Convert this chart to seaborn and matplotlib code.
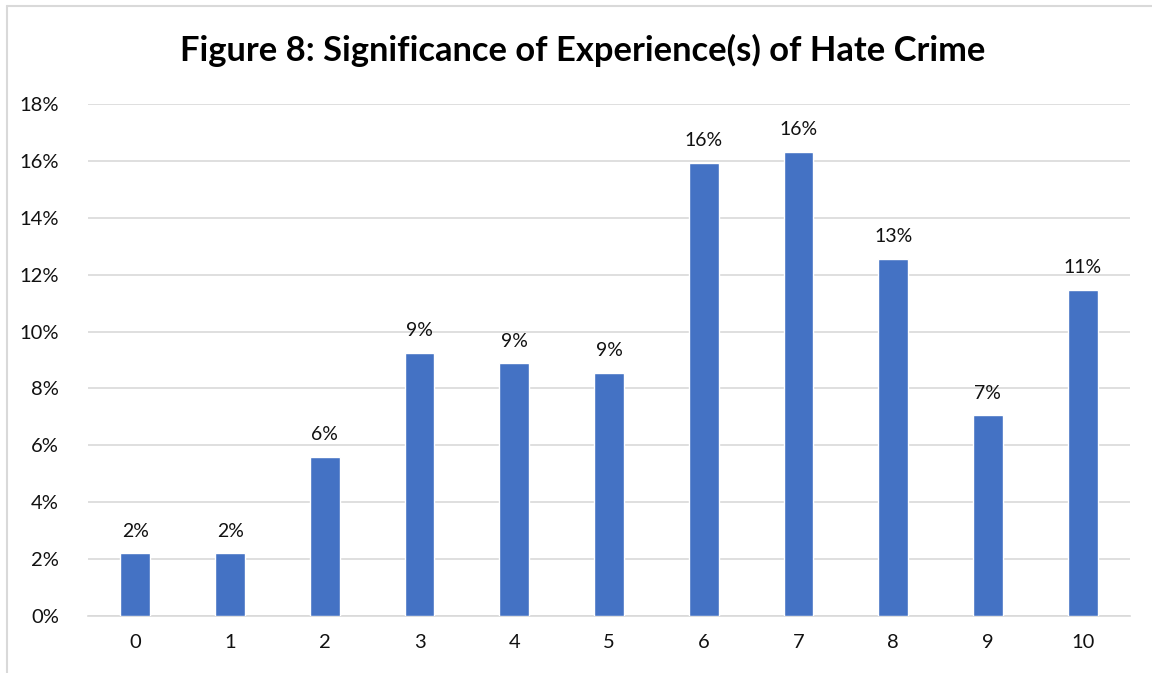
import matplotlib
matplotlib.use("Agg")
import matplotlib.pyplot as plt
import seaborn as sns
import pandas as pd
from matplotlib.lines import Line2D
from matplotlib.ticker import PercentFormatter

# Significance rating (0-10) and share of respondents
ratings = ["0", "1", "2", "3", "4", "5", "6", "7", "8", "9", "10"]
shares = [0.022, 0.022, 0.056, 0.0926, 0.0888, 0.0853, 0.1593, 0.1630, 0.1256, 0.0705, 0.1147]
y_ticks = [0.0, 0.02, 0.04, 0.06, 0.08, 0.10, 0.12, 0.14, 0.16, 0.18]
title = "Figure 8: Significance of Experience(s) of Hate Crime"

df = pd.DataFrame({"rating": ratings, "share": shares})

sns.set_theme(style="white")
plt.rcParams["font.family"] = ["Lato", "DejaVu Sans"]

fig = plt.figure(figsize=(11.52, 6.73), dpi=100)
ax = fig.add_axes([88 / 1152, 57 / 673, (1130 - 88) / 1152, (616 - 104) / 673])

sns.barplot(data=df, x="rating", y="share", order=ratings, color="#4472C4",
            saturation=1, width=0.315, ax=ax, zorder=3)

ax.set_ylim(0, 0.18)
ax.set_xlim(-0.5, len(ratings) - 0.5)
ax.set_yticks(y_ticks)
ax.yaxis.set_major_formatter(PercentFormatter(xmax=1, decimals=0))
ax.grid(axis="y", color="#d9d9d9", linewidth=1.2, zorder=0)
ax.set_axisbelow(True)
for side in ("top", "right", "left"):
    ax.spines[side].set_visible(False)
ax.spines["bottom"].set_color("#d9d9d9")
ax.spines["bottom"].set_linewidth(1.2)
ax.set_xlabel("")
ax.set_ylabel("")
ax.tick_params(axis="both", length=0, labelsize=14.5, colors="#111111")
ax.tick_params(axis="x", pad=13)
ax.tick_params(axis="y", pad=21)

for container in ax.containers:
    ax.bar_label(container, labels=[f"{v:.0%}" for v in shares],
                 padding=10, fontsize=14, color="#111111")

fig.text(583 / 1152, 1 - 50 / 673, title, ha="center", va="center",
         fontsize=24.8, fontweight="bold", color="#000000")

# light frame around the chart area
fig.add_artist(Line2D([7 / 1152, 7 / 1152], [0, 1 - 6 / 673],
                      transform=fig.transFigure, color="#d9d9d9", linewidth=1.5))
fig.add_artist(Line2D([7 / 1152, 1], [1 - 6 / 673, 1 - 6 / 673],
                      transform=fig.transFigure, color="#d9d9d9", linewidth=1.5))

fig.savefig("out.png", dpi=100)
